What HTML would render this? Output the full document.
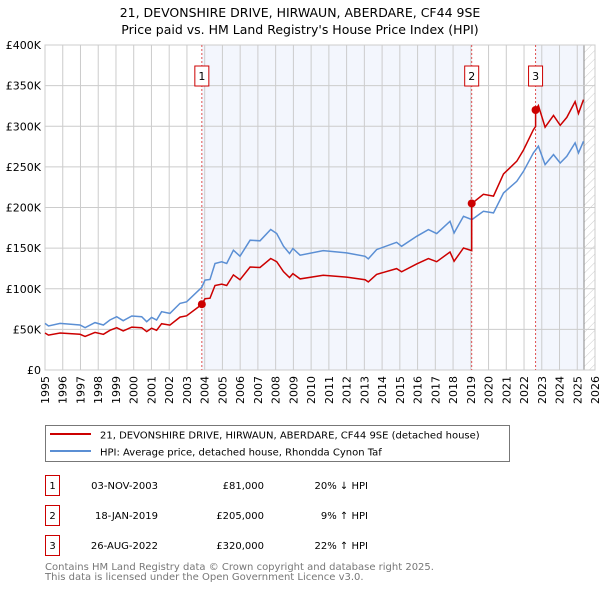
<!DOCTYPE html>
<html><head><meta charset="utf-8"><style>
body{margin:0;background:#fff;font-family:"DejaVu Sans","Liberation Sans",sans-serif;}
svg{display:block}
</style></head><body>
<svg id="chart" width="600" height="590" xmlns="http://www.w3.org/2000/svg" font-family="DejaVu Sans, Liberation Sans, sans-serif">
<defs><pattern id="hatch" width="6" height="6" patternUnits="userSpaceOnUse" patternTransform="rotate(45)"><line x1="0" y1="0" x2="0" y2="6" stroke="#ccc" stroke-width="1"/></pattern></defs>
<text x="300" y="17" text-anchor="middle" font-size="12.5">21, DEVONSHIRE DRIVE, HIRWAUN, ABERDARE, CF44 9SE</text>
<text x="300" y="34" text-anchor="middle" font-size="12.5">Price paid vs. HM Land Registry's House Price Index (HPI)</text>
<g id="plot"></g>
<g>
<rect x="45.5" y="425.5" width="464" height="36" fill="#fff" stroke="#777"/>
<line x1="50" y1="434" x2="91" y2="434" stroke="#cc0000" stroke-width="2"/>
<text x="100" y="438.5" font-size="10">21, DEVONSHIRE DRIVE, HIRWAUN, ABERDARE, CF44 9SE (detached house)</text>
<line x1="50" y1="451" x2="91" y2="451" stroke="#5b8fd4" stroke-width="2"/>
<text x="100" y="455.5" font-size="10">HPI: Average price, detached house, Rhondda Cynon Taf</text>
</g>
<g id="table" font-size="10"></g>
<text x="45" y="570" font-size="10" fill="#777">Contains HM Land Registry data © Crown copyright and database right 2025.</text>
<text x="45" y="580" font-size="10" fill="#777">This data is licensed under the Open Government Licence v3.0.</text>
</svg>
<script>
const hpiYears=[1995.0,1995.2,1995.85,1996.97,1997.26,1997.82,1998.29,1998.66,1999.04,1999.41,1999.89,2000.45,2000.73,2001.01,2001.29,2001.57,2002.04,2002.61,2002.98,2003.83,2004.02,2004.3,2004.58,2004.96,2005.24,2005.62,2005.99,2006.56,2007.12,2007.72,2008.06,2008.44,2008.78,2008.97,2009.38,2010.68,2012.0,2013.04,2013.22,2013.69,2014.82,2015.1,2015.95,2016.61,2017.08,2017.83,2018.06,2018.59,2019.06,2019.71,2020.28,2020.84,2021.59,2021.97,2022.53,2022.81,2023.19,2023.66,2024.04,2024.41,2024.88,2025.07,2025.35];
const hpiValues=[57.4,54.2,57.4,55.4,52.1,58.3,55.4,61.5,65.6,60.7,66.5,65.6,59.5,64.8,61.5,71.8,69.7,82,84,101.6,110.6,111.4,131.1,133.2,131.1,147.5,140.1,159.8,159,172.9,168,152.4,143.4,149.5,141.3,146.9,144.1,140,136.7,148.2,157.2,152.3,164.6,172.8,167.9,183,168.7,189.2,185.1,195.3,193.3,217.9,232.2,244.6,267.2,275.4,252.8,265.1,254.8,263,279.5,267.2,281.5];
const saleYears=[2003.84,2019.05,2022.65];
const salePrices=[81,205,320];
const saleLabels=["1","2","3"];
const saleDates=["03-NOV-2003","18-JAN-2019","26-AUG-2022"];
const salePriceText=["£81,000","£205,000","£320,000"];
const saleHpiText=["20% ↓ HPI","9% ↑ HPI","22% ↑ HPI"];
const yTicks=[0,50,100,150,200,250,300,350,400];
const yTickLabels=["£0","£50K","£100K","£150K","£200K","£250K","£300K","£350K","£400K"];
const xTicks=[1995,1996,1997,1998,1999,2000,2001,2002,2003,2004,2005,2006,2007,2008,2009,2010,2011,2012,2013,2014,2015,2016,2017,2018,2019,2020,2021,2022,2023,2024,2025,2026];
const dataEnd=2025.38;

const L=45,R=595,T=45,B=370;
const X=y=>L+(y-1995)/(2026-1995)*(R-L);
const Y=v=>B-v/400*(B-T);
const NS="http://www.w3.org/2000/svg";
const plot=document.getElementById('plot');
function mk(tag,attrs,parent){const e=document.createElementNS(NS,tag);for(const k in attrs)e.setAttribute(k,attrs[k]);(parent||plot).appendChild(e);return e;}
function hpiAt(y){for(let i=1;i<hpiYears.length;i++){if(y<=hpiYears[i]){const t=(y-hpiYears[i-1])/(hpiYears[i]-hpiYears[i-1]);return hpiValues[i-1]+t*(hpiValues[i]-hpiValues[i-1]);}}return hpiValues[hpiValues.length-1];}

let band=mk('rect',{x:X(saleYears[0]),y:T,width:X(saleYears[1])-X(saleYears[0]),height:B-T,fill:'#f3f6fd'});


let band2=mk('rect',{x:X(saleYears[2]),y:T,width:X(dataEnd)-X(saleYears[2]),height:B-T,fill:'#f3f6fd'});


let hatch=mk('rect',{x:X(dataEnd),y:T,width:R-X(dataEnd),height:B-T,fill:'url(#hatch)'});


mk('line',{x1:X(dataEnd),y1:T,x2:X(dataEnd),y2:B,stroke:'#888','stroke-width':1});

xTicks.forEach(t=>{
  const g=mk('line',{x1:X(t),y1:T,x2:X(t),y2:B,stroke:'#ccc','stroke-width':1});
  
  
  const tx=mk('text',{x:0,y:0,'font-size':11,'text-anchor':'end',transform:`translate(${X(t)+4},${B+6}) rotate(-90)`});
  tx.textContent=t;
  
  
});
yTicks.forEach((t,i)=>{
  const g=mk('line',{x1:L,y1:Y(t),x2:R,y2:Y(t),stroke:'#ccc','stroke-width':1});
  
  
  const tx=mk('text',{x:L-4,y:Y(t)+4,'font-size':11,'text-anchor':'end'});
  tx.textContent=yTickLabels[i];
  
  
});
mk('rect',{x:L,y:T,width:R-L,height:B-T,fill:'none',stroke:'#ccc'});

saleYears.forEach((s,i)=>{
  const l=mk('line',{x1:X(s),y1:T,x2:X(s),y2:B,stroke:'#e05050','stroke-width':1,'stroke-dasharray':'2,2'});
  
  
  const bx=mk('rect',{x:X(s)-7,y:66,width:14,height:20,fill:'#fff',stroke:'#cc0000'});
  
  
  const t=mk('text',{x:X(s),y:80,'font-size':11,'text-anchor':'middle'});
  t.textContent=saleLabels[i];
});

let d='';hpiYears.forEach((y,i)=>{d+=(i?'L':'M')+X(y).toFixed(1)+','+Y(hpiValues[i]).toFixed(1);});
const hp=mk('path',{d:d,fill:'none',stroke:'#5b8fd4','stroke-width':1.5});



const ratios=saleYears.map((s,i)=>salePrices[i]/hpiAt(s));
function ratioAt(y){let r=ratios[0];saleYears.forEach((s,i)=>{if(y>=s)r=ratios[i];});return r;}
const allYears=hpiYears.concat(saleYears).sort((a,b)=>a-b);
let d2='';
allYears.forEach((y,i)=>{
  const j=saleYears.indexOf(y);
  if(j>0){d2+='L'+X(y).toFixed(1)+','+Y(hpiAt(y)*ratios[j-1]).toFixed(1);}
  d2+=(i?'L':'M')+X(y).toFixed(1)+','+Y(hpiAt(y)*ratioAt(y)).toFixed(1);
});
const pp=mk('path',{d:d2,fill:'none',stroke:'#cc0000','stroke-width':1.5});


saleYears.forEach((s,i)=>{
  const c=mk('circle',{cx:X(s),cy:Y(salePrices[i]),r:4,fill:'#cc0000'});
  
  
});

const tbl=document.getElementById('table');
saleLabels.forEach((lab,i)=>{
  const y0=475+i*30;
  const r=mk('rect',{x:45.5,y:y0+0.5,width:14,height:20,fill:'#fff',stroke:'#cc0000'},tbl);
  
  
  const a=mk('text',{x:52.5,y:y0+14,'text-anchor':'middle'},tbl);a.textContent=lab;
  const b=mk('text',{x:158,y:y0+14,'text-anchor':'end'},tbl);b.textContent=saleDates[i];
  
  
  const c=mk('text',{x:264,y:y0+14,'text-anchor':'end'},tbl);c.textContent=salePriceText[i];
  
  
  const e=mk('text',{x:368,y:y0+14,'text-anchor':'end'},tbl);e.textContent=saleHpiText[i];
  
  
});
</script>
</body></html>
